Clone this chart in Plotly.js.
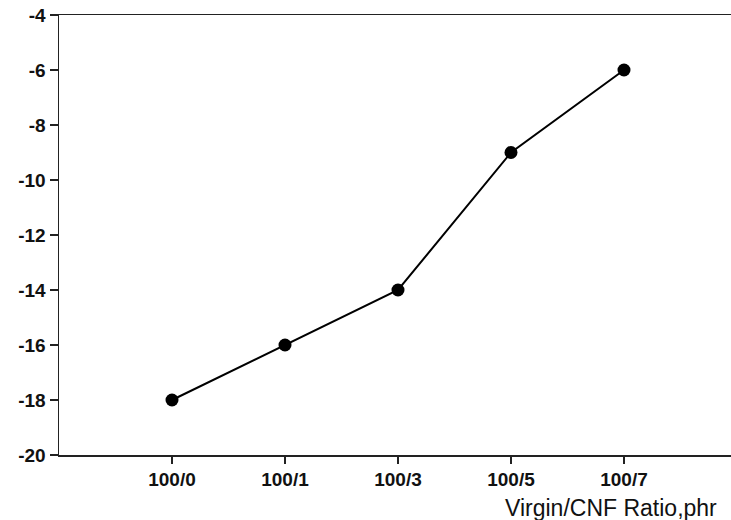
<!DOCTYPE html>
<html><head><meta charset="utf-8">
<script src="https://cdn.plot.ly/plotly-3.0.1.min.js"></script>
<style>html,body{margin:0;padding:0;background:#fff;}#chart{width:731px;height:520px;}</style>
</head><body><div id="chart"></div>
<script>
const categories = ["100/0", "100/1", "100/3", "100/5", "100/7"];
const values = [-18, -16, -14, -9, -6];
const yTicks = [-20, -18, -16, -14, -12, -10, -8, -6, -4];
const yTickLabels = ["-20", "-18", "-16", "-14", "-12", "-10", "-8", "-6", "-4"];
const xTitle = "Virgin/CNF Ratio,phr";

const idx = categories.map((_, i) => i);
const trace = {
  x: idx, y: values, type: 'scatter', mode: 'lines+markers',
  line: {color: '#000', width: 2},
  marker: {color: '#000', size: 13},
  hoverinfo: 'skip'
};
const tf = {size: 19, family: 'Liberation Sans, Arial, sans-serif', weight: 'bold', color: '#111'};
const layout = {
  width: 731, height: 520,
  margin: {l: 59, r: 0, t: 15, b: 65},
  paper_bgcolor: '#fff', plot_bgcolor: '#fff',
  showlegend: false,
  font: {family: 'Liberation Sans, Arial, sans-serif', color: '#000'},
  xaxis: {
    range: [-1, 4.947], tickvals: idx, ticktext: categories,
    showgrid: false, zeroline: false, showline: true, mirror: true,
    linecolor: '#222', linewidth: 1.5, ticks: 'outside', ticklen: 7, tickwidth: 1.2,
    tickcolor: '#222', tickfont: tf
  },
  yaxis: {
    range: [-20, -4], tickvals: yTicks, ticktext: yTickLabels,
    showgrid: false, zeroline: false, showline: true, mirror: false,
    linecolor: '#222', linewidth: 1.5, ticks: 'outside', ticklen: 8, tickwidth: 1.2,
    tickcolor: '#222', tickfont: tf
  },
  annotations: [{
    text: xTitle, xref: 'paper', yref: 'paper', x: 1, y: 0,
    xanchor: 'right', yanchor: 'middle', xshift: -12, yshift: -53, showarrow: false,
    font: {size: 23, family: 'Liberation Sans, Arial, sans-serif', color: '#111'}
  }]
};
Plotly.newPlot('chart', [trace], layout, {displayModeBar: false, staticPlot: true});
</script></body></html>
